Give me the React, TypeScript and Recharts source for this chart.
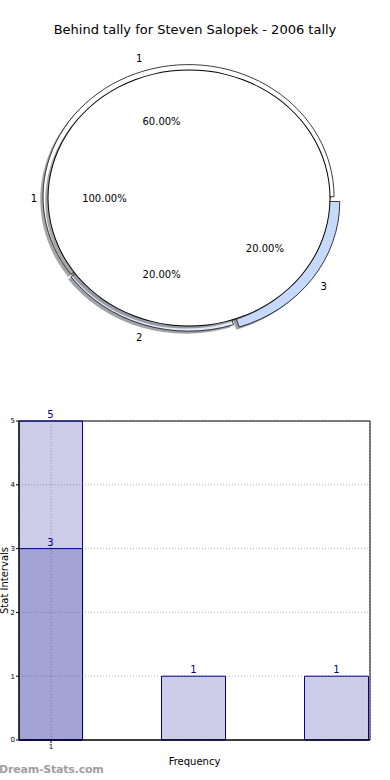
import React from "react"
import {
  Bar, BarChart, CartesianGrid, Cell, Label, LabelList, Pie, PieChart,
  ReferenceArea, XAxis, YAxis,
} from "recharts"

const title = "Behind tally for Steven Salopek - 2006 tally"

// pie: inner ring is the whole tally, outer ring splits it
const innerNames = ["1"]
const innerValues = [5]
const outerNames = ["1", "2", "3"]
const outerValues = [3, 1, 1]
const outerColors = ["#ffffff", "#e1e9fb", "#c7d9fb"]

// bars
const barX = [1, 2, 3]
const tallyCounts = [5, 1, 1]
const behindCounts = [3, null, null]
const yTicks = [0, 1, 2, 3, 4, 5]
const xTicks = [1]

const FONT = "DejaVu Sans, sans-serif"
const NAVY = "#00008b"

const CX = 189
const CY = 198
const R = 141
const RO = 145.5
const SY = 0.908
const EXPLODE = [1.5, 1.2, 6.5]
const SHADOW = 2.8
const RAD = Math.PI / 180

const innerData = innerNames.map((name, i) => ({ name, value: innerValues[i] }))
const outerData = outerNames.map((name, i) => ({ name, value: outerValues[i] }))
const barData = barX.map((x, i) => ({ x, total: tallyCounts[i], behind: behindCounts[i] }))

function PieText({ x, y, children }: { x: number; y: number; children: any }) {
  return (
    <text
      transform={`translate(${x},${y}) scale(1,${1 / SY})`}
      textAnchor="middle"
      dominantBaseline="central"
      fontFamily={FONT}
      fontSize={10}
      fill="#000"
    >
      {children}
    </text>
  )
}

const outerLabel = (i: number) => (props: any) => {
  if (props.index !== i) return null
  const c = Math.cos(props.midAngle * RAD)
  const s = Math.sin(props.midAngle * RAD)
  const d = EXPLODE[i]
  const pr = 0.6 * RO + d
  const nr = 1.1 * RO + d
  return (
    <g>
      <PieText x={CX + pr * c} y={CY - pr * s}>{(props.percent * 100).toFixed(2)}%</PieText>
      <PieText x={CX + nr * c} y={CY - nr * s}>{props.name}</PieText>
    </g>
  )
}

const innerLabel = (props: any) => {
  const c = Math.cos(props.midAngle * RAD)
  const s = Math.sin(props.midAngle * RAD)
  return (
    <g>
      <PieText x={CX + 0.6 * R * c} y={CY - 0.6 * R * s}>{(props.percent * 100).toFixed(2)}%</PieText>
      <PieText x={CX + 1.1 * R * c} y={CY - 1.1 * R * s}>{props.name}</PieText>
    </g>
  )
}

// the middle angle of each outer slice, used to push it outwards
const total = outerValues.reduce((a, b) => a + b, 0)
const midAngles = outerValues.map((v, i) => {
  const before = outerValues.slice(0, i).reduce((a, b) => a + b, 0)
  return ((before + v / 2) / total) * 360
})
const explodedCenter = (i: number) => ({
  x: CX + EXPLODE[i] * Math.cos(midAngles[i] * RAD),
  y: CY - EXPLODE[i] * Math.sin(midAngles[i] * RAD),
})

function shadowOf(hex: string) {
  const n = parseInt(hex.slice(1), 16)
  const r = Math.round(((n >> 16) & 255) * 0.3)
  const g = Math.round(((n >> 8) & 255) * 0.3)
  const b = Math.round((n & 255) * 0.3)
  return `rgb(${r},${g},${b})`
}

function TallyPie() {
  return (
    <div style={{ transform: `scaleY(${SY})`, transformOrigin: `${CX}px ${CY}px` }}>
      <PieChart width={390} height={400} margin={{ top: 0, right: 0, bottom: 0, left: 0 }}>
        {outerNames.map((_, i) => {
          const c = explodedCenter(i)
          return (
            <Pie
              key={"sh" + i}
              data={outerData}
              dataKey="value"
              nameKey="name"
              cx={c.x - SHADOW}
              cy={c.y + SHADOW}
              innerRadius={0}
              outerRadius={RO}
              startAngle={0}
              endAngle={360}
              isAnimationActive={false}
              labelLine={false}
            >
              {outerData.map((_, j) => (
                <Cell key={j} fill={j === i ? shadowOf(outerColors[j]) : "none"} fillOpacity={0.5} stroke="none" />
              ))}
            </Pie>
          )
        })}
        {outerNames.map((_, i) => {
          const c = explodedCenter(i)
          return (
            <Pie
              key={"w" + i}
              data={outerData}
              dataKey="value"
              nameKey="name"
              cx={c.x}
              cy={c.y}
              innerRadius={0}
              outerRadius={RO}
              startAngle={0}
              endAngle={360}
              isAnimationActive={false}
              labelLine={false}
              label={outerLabel(i)}
            >
              {outerData.map((_, j) => (
                <Cell
                  key={j}
                  fill={j === i ? outerColors[j] : "none"}
                  stroke={j === i ? "#000" : "none"}
                  strokeWidth={0.8}
                />
              ))}
            </Pie>
          )
        })}
        <Pie
          data={innerData}
          dataKey="value"
          cx={CX - SHADOW}
          cy={CY + SHADOW}
          innerRadius={0.1}
          outerRadius={R}
          startAngle={0}
          endAngle={360}
          fill="#4d4d4d"
          fillOpacity={0.5}
          stroke="none"
          isAnimationActive={false}
          labelLine={false}
        />
        <Pie
          data={innerData}
          dataKey="value"
          nameKey="name"
          cx={CX}
          cy={CY}
          innerRadius={0.1}
          outerRadius={R}
          startAngle={0}
          endAngle={360}
          fill="#ffffff"
          stroke="none"
          isAnimationActive={false}
          labelLine={false}
          label={innerLabel}
        />
        <Pie
          data={innerData}
          dataKey="value"
          cx={CX}
          cy={CY}
          innerRadius={R - 0.5}
          outerRadius={R + 0.5}
          startAngle={0}
          endAngle={360}
          fill="#000"
          stroke="none"
          isAnimationActive={false}
          labelLine={false}
        />
      </PieChart>
    </div>
  )
}

const X_DOMAIN = [0.776, 3.231]

function TallyBars() {
  return (
    <BarChart width={390} height={380} data={barData} margin={{ top: 21, right: 20, bottom: 20, left: 0 }}>
      <CartesianGrid xAxisId="main" stroke="#b4b4b4" strokeDasharray="1 2" />
      <XAxis
        xAxisId="main"
        dataKey="x"
        type="number"
        domain={X_DOMAIN}
        ticks={xTicks}
        allowDataOverflow
        height={20}
        tickSize={3}
        tickMargin={1}
        tick={{ fontSize: 7, fill: "#000", fontFamily: FONT }}
        tickLine={{ stroke: "#000" }}
        axisLine={{ stroke: "#000" }}
        label={
          <Label
            content={(p: any) => (
              <text
                x={p.viewBox.x + p.viewBox.width / 2}
                y={p.viewBox.y + 25}
                textAnchor="middle"
                fontFamily={FONT}
                fontSize={10}
                fill="#000"
              >
                Frequency
              </text>
            )}
          />
        }
      />
      <XAxis xAxisId="over" dataKey="x" type="number" domain={X_DOMAIN} allowDataOverflow hide />
      <YAxis
        width={19}
        domain={[0, 5]}
        ticks={yTicks}
        interval={0}
        tickSize={3}
        tickMargin={1}
        tick={{ fontSize: 7, fill: "#000", fontFamily: FONT }}
        tickLine={{ stroke: "#000" }}
        axisLine={{ stroke: "#000" }}
        label={
          <Label
            content={(p: any) => {
              const cy = p.viewBox.y + p.viewBox.height / 2
              return (
                <text
                  transform={`translate(4,${cy}) rotate(-90)`}
                  textAnchor="middle"
                  dominantBaseline="central"
                  fontFamily={FONT}
                  fontSize={10}
                  fill="#000"
                >
                  Stat Intervals
                </text>
              )
            }}
          />
        }
      />
      <ReferenceArea xAxisId="main" x1={X_DOMAIN[0]} x2={X_DOMAIN[1]} y1={0} y2={5} fill="none" stroke="#000" ifOverflow="visible" />
      <Bar xAxisId="main" dataKey="total" barSize={64} fill={NAVY} fillOpacity={0.2} stroke={NAVY} isAnimationActive={false}>
        <LabelList dataKey="total" position="top" offset={3} fill={NAVY} fontSize={10} fontFamily={FONT} />
      </Bar>
      <Bar xAxisId="over" dataKey="behind" barSize={64} fill={NAVY} fillOpacity={0.2} stroke={NAVY} isAnimationActive={false}>
        <LabelList dataKey="behind" position="top" offset={3} fill={NAVY} fontSize={10} fontFamily={FONT} />
      </Bar>
    </BarChart>
  )
}

export default function App() {
  return (
    <div style={{ position: "relative", width: 390, height: 780, background: "#fff", overflow: "hidden" }}>
      <style>{"body{margin:0}"}</style>
      <div
        style={{
          position: "absolute", top: 22, left: 0, width: 390, textAlign: "center",
          fontFamily: FONT, fontSize: 13, lineHeight: "16px", color: "#000",
        }}
      >
        {title}
      </div>
      <div style={{ position: "absolute", top: 0, left: 0 }}>
        <TallyPie />
      </div>
      <div style={{ position: "absolute", top: 400, left: 0 }}>
        <TallyBars />
      </div>
      <div
        style={{
          position: "absolute", top: 763, left: -1, fontFamily: FONT, fontSize: 11,
          fontWeight: 600, color: "#a0a0a0", lineHeight: "14px", letterSpacing: -0.2,
        }}
      >
        Dream-Stats.com
      </div>
    </div>
  )
}
